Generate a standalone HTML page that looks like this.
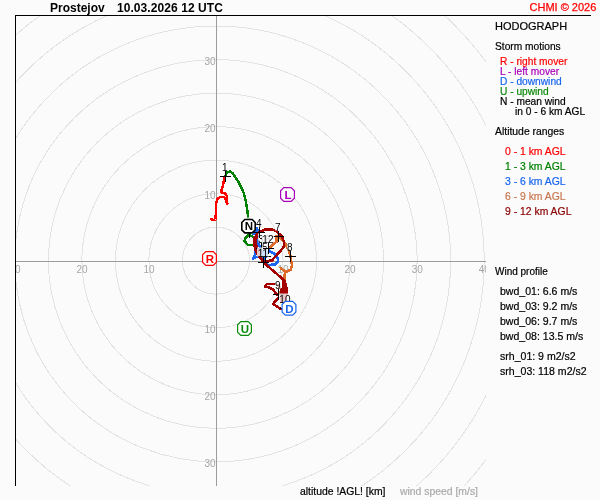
<!DOCTYPE html>
<html><head><meta charset="utf-8"><title>Hodograph</title>
<style>
html,body{margin:0;padding:0;background:#fbfbfb;}
body{width:600px;height:500px;overflow:hidden;}
svg{display:block;font-family:"Liberation Sans",Arial,sans-serif;}
</style></head><body>
<svg width="600" height="500" viewBox="0 0 600 500">
<rect x="0" y="0" width="600" height="500" fill="#fbfbfb"/>
<defs><clipPath id="plot"><rect x="15" y="15" width="471" height="471"/></clipPath></defs>
<g clip-path="url(#plot)">

<g fill="none" stroke="#e3e3e3" stroke-width="1" shape-rendering="crispEdges">
<circle cx="216.0" cy="260.7" r="33.52"/>
<circle cx="216.0" cy="260.7" r="67.05"/>
<circle cx="216.0" cy="260.7" r="100.58"/>
<circle cx="216.0" cy="260.7" r="134.10"/>
<circle cx="216.0" cy="260.7" r="167.62"/>
<circle cx="216.0" cy="260.7" r="201.15"/>
<circle cx="216.0" cy="260.7" r="234.68"/>
<circle cx="216.0" cy="260.7" r="268.20"/>
<circle cx="216.0" cy="260.7" r="301.73"/>
<circle cx="216.0" cy="260.7" r="335.25"/>
<circle cx="216.0" cy="260.7" r="368.77"/>
</g>
<g stroke="#9c9c9c" stroke-width="1"><line x1="15" y1="261.5" x2="486" y2="261.5"/><line x1="216.5" y1="15" x2="216.5" y2="486"/></g>
<g fill="#a6a6a6" font-size="10px">
<text x="215.6" y="198.8" text-anchor="end">10</text>
<text x="215.6" y="332.9" text-anchor="end">10</text>
<text x="215.6" y="131.7" text-anchor="end">20</text>
<text x="215.6" y="399.9" text-anchor="end">20</text>
<text x="215.6" y="64.6" text-anchor="end">30</text>
<text x="215.6" y="466.9" text-anchor="end">30</text>
<text x="149.0" y="273.2" text-anchor="middle">10</text>
<text x="82.0" y="273.2" text-anchor="middle">20</text>
<text x="14.9" y="273.2" text-anchor="middle">30</text>
<text x="283.1" y="273.2" text-anchor="middle">10</text>
<text x="350.1" y="273.2" text-anchor="middle">20</text>
<text x="417.2" y="273.2" text-anchor="middle">30</text>
<text x="484.2" y="273.2" text-anchor="middle">40</text>
</g>
</g>
<line x1="15.5" y1="15" x2="15.5" y2="486" stroke="#000" stroke-width="1"/>
<line x1="15" y1="15.5" x2="591" y2="15.5" stroke="#000" stroke-width="1"/>
<path d="M210.5,218.5 L213.0,220.0 L215.5,219.5 L216.0,210.0 L216.2,203.0 L217.5,199.0 L219.5,197.3 L223.0,196.8 L225.0,197.8 L226.0,201.0 L227.3,204.0 L226.8,196.0 L225.2,193.5 L222.7,193.0 L220.8,191.7 L222.3,188.0 L223.0,185.0 L224.0,180.0 L225.0,176.5" fill="none" stroke="#ff0000" stroke-width="2.5" stroke-linejoin="round" stroke-linecap="butt" shape-rendering="crispEdges"/>
<path d="M225.0,176.5 L227.0,172.5 L230.0,171.5 L233.0,173.5 L236.0,178.0 L239.0,183.0 L241.6,188.0 L243.7,193.0 L245.4,199.3 L247.0,208.5 L248.3,218.0 L249.5,233.0" fill="none" stroke="#008000" stroke-width="2.5" stroke-linejoin="round" stroke-linecap="butt" shape-rendering="crispEdges"/>
<path d="M249.5,233.0 L250.0,235.7 L247.5,235.7 L245.0,238.4 L244.6,241.0 L246.6,243.7 L248.4,245.0 L252.0,245.0 L256.7,243.7 L259.4,246.0 L261.5,248.5" fill="none" stroke="#008000" stroke-width="2.5" stroke-linejoin="round" stroke-linecap="butt" shape-rendering="crispEdges"/>
<path d="M250.0,235.7 L252.0,235.9 L254.3,238.3" fill="none" stroke="#008000" stroke-width="2.5" stroke-linejoin="round" stroke-linecap="butt" shape-rendering="crispEdges"/>
<path d="M261.5,248.5 L259.4,246.0 L257.7,240.0 L257.5,236.0" fill="none" stroke="#1a66ee" stroke-width="2.5" stroke-linejoin="round" stroke-linecap="butt" shape-rendering="crispEdges"/>
<path d="M253.0,235.0 L256.2,231.5 L256.8,228.2 L259.5,232.5" fill="none" stroke="#1a66ee" stroke-width="2.5" stroke-linejoin="round" stroke-linecap="butt" shape-rendering="crispEdges"/>
<path d="M259.5,232.5 L257.0,240.0 L256.0,250.0 L254.4,256.5 L253.0,258.5 L257.5,256.5 L265.5,256.5" fill="none" stroke="#1a66ee" stroke-width="2.5" stroke-linejoin="round" stroke-linecap="butt" shape-rendering="crispEdges"/>
<polygon points="257,248 267.5,248 267.5,257 262,257 257,257" fill="#1a66ee" shape-rendering="crispEdges"/>
<path d="M265.5,256.5 L264.0,263.5 L268.0,265.0 L275.2,264.4 L278.0,261.6 L277.6,257.6 L274.4,253.6 L270.4,252.0 L268.5,248.5" fill="none" stroke="#1a66ee" stroke-width="2.5" stroke-linejoin="round" stroke-linecap="butt" shape-rendering="crispEdges"/>
<path d="M268.5,248.5 L270.4,247.2 L273.6,244.0 L276.8,241.6 L276.0,236.0 L278.5,236.5" fill="none" stroke="#dc6a28" stroke-width="2.5" stroke-linejoin="round" stroke-linecap="butt" shape-rendering="crispEdges"/>
<path d="M278.5,236.5 L282.0,240.0 L285.6,244.0 L288.8,250.4 L290.5,256.5" fill="none" stroke="#dc6a28" stroke-width="2.5" stroke-linejoin="round" stroke-linecap="butt" shape-rendering="crispEdges"/>
<path d="M290.5,256.5 L291.5,262.0 L292.0,265.0 L290.5,270.0 L287.0,271.5 L284.0,270.5 L281.5,269.0 L280.0,267.0" fill="none" stroke="#dc6a28" stroke-width="2.5" stroke-linejoin="round" stroke-linecap="butt" shape-rendering="crispEdges"/>
<path d="M285.0,272.0 L284.5,276.0 L285.0,280.0 L284.8,285.0 L283.0,290.0 L277.5,294.5" fill="none" stroke="#dc6a28" stroke-width="2.5" stroke-linejoin="round" stroke-linecap="butt" shape-rendering="crispEdges"/>
<path d="M278.5,294.5 L277.6,295.2 L275.2,292.8 L273.2,289.6 L269.2,287.4 L265.5,287.0 L265.2,285.6 L267.5,283.8 L275.5,283.8 L279.0,286.0 L281.0,289.0" fill="none" stroke="#a40000" stroke-width="2.5" stroke-linejoin="round" stroke-linecap="butt" shape-rendering="crispEdges"/>
<polygon points="282,280 286,280 287,288.5 287,303 279.5,303 279.5,290 282,287" fill="#a40000" shape-rendering="crispEdges"/>
<path d="M279.0,297.0 L273.0,304.0 L281.0,309.0 L285.5,308.5" fill="none" stroke="#a40000" stroke-width="2.5" stroke-linejoin="round" stroke-linecap="butt" shape-rendering="crispEdges"/>
<path d="M285.5,308.0 L286.0,300.0 L286.5,292.0 L286.5,288.4 L285.5,284.0 L284.0,280.0 L263.5,262.5" fill="none" stroke="#a40000" stroke-width="2.5" stroke-linejoin="round" stroke-linecap="butt" shape-rendering="crispEdges"/>
<path d="M263.5,262.5 L256.0,252.0 L254.0,244.0 L254.5,238.0 L258.0,232.8 L264.8,229.6 L272.0,229.4 L276.0,231.2 L281.6,236.0 L284.0,241.6 L284.0,246.4 L281.6,249.6 L276.0,256.0 L272.0,260.4 L268.0,261.0 L264.0,261.5" fill="none" stroke="#a40000" stroke-width="2.5" stroke-linejoin="round" stroke-linecap="butt" shape-rendering="crispEdges"/>
<path d="M263.5,262.5 L258.0,252.0 L256.0,244.0 L256.3,238.0 L257.3,234.5" fill="none" stroke="#a40000" stroke-width="2.5" stroke-linejoin="round" stroke-linecap="butt" shape-rendering="crispEdges"/>
<path d="M220.0,176.5 H231.0 M225.5,171.0 V182.0" stroke="#000" stroke-width="1" fill="none"/>
<rect x="222.0" y="161.5" width="6.0" height="9" fill="#ffffff" fill-opacity="0.78"/>
<text x="224.9" y="170.5" text-anchor="middle" font-size="10px" fill="#000">1</text>
<path d="M244.0,232.5 H255.0 M249.5,227.0 V238.0" stroke="#000" stroke-width="1" fill="none"/>
<rect x="246.0" y="217.5" width="6.0" height="9" fill="#ffffff" fill-opacity="0.78"/>
<text x="248.9" y="226.5" text-anchor="middle" font-size="10px" fill="#000">2</text>
<path d="M256.0,248.5 H267.0 M261.5,243.0 V254.0" stroke="#000" stroke-width="1" fill="none"/>
<rect x="258.0" y="233.5" width="6.0" height="9" fill="#ffffff" fill-opacity="0.78"/>
<text x="260.9" y="242.5" text-anchor="middle" font-size="10px" fill="#000">3</text>
<path d="M254.0,232.5 H265.0 M259.5,227.0 V238.0" stroke="#000" stroke-width="1" fill="none"/>
<rect x="256.0" y="217.5" width="6.0" height="9" fill="#ffffff" fill-opacity="0.78"/>
<text x="258.9" y="226.5" text-anchor="middle" font-size="10px" fill="#000">4</text>
<path d="M260.0,256.5 H271.0 M265.5,251.0 V262.0" stroke="#000" stroke-width="1" fill="none"/>
<rect x="262.0" y="241.5" width="6.0" height="9" fill="#ffffff" fill-opacity="0.78"/>
<text x="264.9" y="250.5" text-anchor="middle" font-size="10px" fill="#000">5</text>
<path d="M263.0,248.5 H274.0 M268.5,243.0 V254.0" stroke="#000" stroke-width="1" fill="none"/>
<rect x="265.0" y="233.5" width="6.0" height="9" fill="#ffffff" fill-opacity="0.78"/>
<text x="267.9" y="242.5" text-anchor="middle" font-size="10px" fill="#000">6</text>
<path d="M273.0,236.5 H284.0 M278.5,231.0 V242.0" stroke="#000" stroke-width="1" fill="none"/>
<rect x="275.0" y="221.5" width="6.0" height="9" fill="#ffffff" fill-opacity="0.78"/>
<text x="277.9" y="230.5" text-anchor="middle" font-size="10px" fill="#000">7</text>
<path d="M285.0,256.5 H296.0 M290.5,251.0 V262.0" stroke="#000" stroke-width="1" fill="none"/>
<rect x="287.0" y="241.5" width="6.0" height="9" fill="#ffffff" fill-opacity="0.78"/>
<text x="289.9" y="250.5" text-anchor="middle" font-size="10px" fill="#000">8</text>
<path d="M273.0,294.5 H284.0 M278.5,289.0 V300.0" stroke="#000" stroke-width="1" fill="none"/>
<rect x="275.0" y="279.5" width="6.0" height="9" fill="#ffffff" fill-opacity="0.78"/>
<text x="277.9" y="288.5" text-anchor="middle" font-size="10px" fill="#000">9</text>
<path d="M280.0,308.5 H291.0 M285.5,303.0 V314.0" stroke="#000" stroke-width="1" fill="none"/>
<rect x="279.0" y="293.5" width="12.0" height="9" fill="#ffffff" fill-opacity="0.78"/>
<text x="284.9" y="302.5" text-anchor="middle" font-size="10px" fill="#000">10</text>
<path d="M258.0,262.5 H269.0 M263.5,257.0 V268.0" stroke="#000" stroke-width="1" fill="none"/>
<rect x="257.0" y="247.5" width="12.0" height="9" fill="#ffffff" fill-opacity="0.78"/>
<text x="262.9" y="256.5" text-anchor="middle" font-size="10px" fill="#000">11</text>
<path d="M263.0,248.5 H274.0 M268.5,243.0 V254.0" stroke="#000" stroke-width="1" fill="none"/>
<rect x="262.0" y="233.5" width="12.0" height="9" fill="#ffffff" fill-opacity="0.78"/>
<text x="267.9" y="242.5" text-anchor="middle" font-size="10px" fill="#000">12</text>
<polygon points="205.8,251.6 213.2,251.6 216.4,254.8 216.4,262.2 213.2,265.4 205.8,265.4 202.6,262.2 202.6,254.8" fill="#ffffff" stroke="#ff0000" stroke-width="1.2"/>
<text x="209.9" y="262.7" text-anchor="middle" font-size="11.5px" font-weight="bold" fill="#ff0000">R</text>
<polygon points="283.8,187.6 291.2,187.6 294.4,190.8 294.4,198.2 291.2,201.4 283.8,201.4 280.6,198.2 280.6,190.8" fill="#ffffff" stroke="#a800b8" stroke-width="1.2"/>
<text x="287.9" y="198.7" text-anchor="middle" font-size="11.5px" font-weight="bold" fill="#a800b8">L</text>
<polygon points="240.8,321.6 248.2,321.6 251.4,324.8 251.4,332.2 248.2,335.4 240.8,335.4 237.6,332.2 237.6,324.8" fill="#ffffff" stroke="#0a8a0a" stroke-width="1.2"/>
<text x="244.9" y="332.7" text-anchor="middle" font-size="11.5px" font-weight="bold" fill="#0a8a0a">U</text>
<polygon points="285.3,301.4 292.7,301.4 295.9,304.6 295.9,312.0 292.7,315.2 285.3,315.2 282.1,312.0 282.1,304.6" fill="#ffffff" stroke="#1a66ee" stroke-width="1.2"/>
<text x="289.4" y="312.5" text-anchor="middle" font-size="11.5px" font-weight="bold" fill="#1a66ee">D</text>
<polygon points="244.8,219.5 252.2,219.5 255.2,222.5 255.2,229.9 252.2,232.9 244.8,232.9 241.8,229.9 241.8,222.5" fill="#ffffff" stroke="#000000" stroke-width="1.6"/>
<text x="248.9" y="230.4" text-anchor="middle" font-size="11.5px" font-weight="bold" fill="#000000">N</text>
<text x="50" y="12" font-size="12px" font-weight="bold" fill="#000">Prostejov</text>
<text x="116.9" y="12" font-size="12px" font-weight="bold" fill="#000" letter-spacing="0.08">10.03.2026 12 UTC</text>
<text x="596.3" y="11" font-size="11px" fill="#ff0000" stroke="#ff0000" stroke-width="0.25" text-anchor="end">CHMI © 2026</text>
<text x="495" y="30" font-size="11px" fill="#000" stroke="#000" stroke-width="0.2">HODOGRAPH</text>
<text x="495" y="50.4" font-size="10.2px" fill="#000" stroke="#000" stroke-width="0.2">Storm motions</text>
<text x="500" y="65.4" font-size="10.2px" fill="#ff0000" stroke="#ff0000" stroke-width="0.2">R - right mover</text>
<text x="500" y="75.4" font-size="10.2px" fill="#a800b8" stroke="#a800b8" stroke-width="0.2">L - left mover</text>
<text x="500" y="85.4" font-size="10.2px" fill="#1a66ee" stroke="#1a66ee" stroke-width="0.2">D - downwind</text>
<text x="500" y="95.4" font-size="10.2px" fill="#0a8a0a" stroke="#0a8a0a" stroke-width="0.2">U - upwind</text>
<text x="500" y="105.4" font-size="10.2px" fill="#000" stroke="#000" stroke-width="0.2">N - mean wind</text>
<text x="515" y="115.4" font-size="10.2px" fill="#000" stroke="#000" stroke-width="0.2">in 0 - 6 km AGL</text>
<text x="495" y="135.4" font-size="10.4px" fill="#000" stroke="#000" stroke-width="0.2">Altitude ranges</text>
<text x="505" y="155.4" font-size="10.4px" fill="#ff0000" stroke="#ff0000" stroke-width="0.2">0 - 1 km AGL</text>
<text x="505" y="170.4" font-size="10.4px" fill="#008000" stroke="#008000" stroke-width="0.2">1 - 3 km AGL</text>
<text x="505" y="185.4" font-size="10.4px" fill="#1a66ee" stroke="#1a66ee" stroke-width="0.2">3 - 6 km AGL</text>
<text x="505" y="200.4" font-size="10.4px" fill="#c87850" stroke="#c87850" stroke-width="0.2">6 - 9 km AGL</text>
<text x="505" y="215.4" font-size="10.4px" fill="#8b0000" stroke="#8b0000" stroke-width="0.2">9 - 12 km AGL</text>
<text x="495" y="275.4" font-size="10px" fill="#000" stroke="#000" stroke-width="0.2">Wind profile</text>
<text x="500" y="295.4" font-size="10.55px" fill="#000" stroke="#000" stroke-width="0.2">bwd_01: 6.6 m/s</text>
<text x="500" y="310.4" font-size="10.55px" fill="#000" stroke="#000" stroke-width="0.2">bwd_03: 9.2 m/s</text>
<text x="500" y="325.4" font-size="10.55px" fill="#000" stroke="#000" stroke-width="0.2">bwd_06: 9.7 m/s</text>
<text x="500" y="340.4" font-size="10.55px" fill="#000" stroke="#000" stroke-width="0.2">bwd_08: 13.5 m/s</text>
<text x="500" y="360.4" font-size="10.55px" fill="#000" stroke="#000" stroke-width="0.2">srh_01: 9 m2/s2</text>
<text x="500" y="375.4" font-size="10.55px" fill="#000" stroke="#000" stroke-width="0.2">srh_03: 118 m2/s2</text>
<text x="300" y="495.4" font-size="10.4px" fill="#000" stroke="#000" stroke-width="0.2">altitude !AGL! [km]</text>
<text x="400" y="495.4" font-size="10.4px" fill="#aaaaaa" stroke="#aaaaaa" stroke-width="0.2">wind speed [m/s]</text>
</svg></body></html>
